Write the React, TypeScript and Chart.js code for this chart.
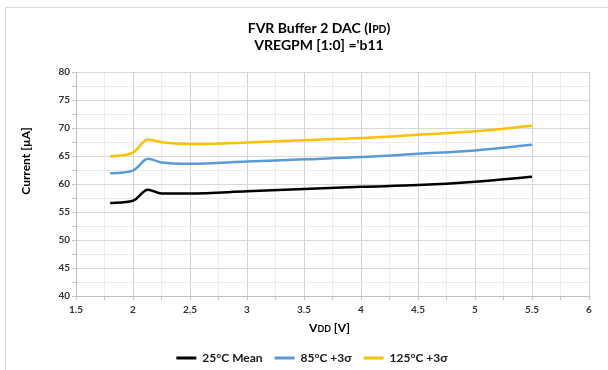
import { useEffect, useRef } from 'react';
import { Chart, registerables } from 'chart.js';

Chart.register(...registerables);

// ---- data ----
const VDD = [1.8, 2.0, 2.13, 2.25, 2.5, 3.0, 3.5, 4.0, 4.5, 5.0, 5.5];
const MEAN_25C = [56.6, 57.0, 58.96, 58.3, 58.3, 58.7, 59.1, 59.5, 59.8, 60.4, 61.3];
const SIGMA_85C = [61.9, 62.4, 64.5, 63.85, 63.6, 64.0, 64.4, 64.8, 65.4, 66.0, 67.0];
const SIGMA_125C = [64.9, 65.6, 67.93, 67.45, 67.15, 67.4, 67.8, 68.2, 68.8, 69.4, 70.4];

const SERIES_NAMES = ['25°C Mean', '85°C +3σ', '125°C +3σ'];
const SERIES_COLORS = ['#000000', '#5B9BD5', '#FFC000'];

const TITLE_LINES = ['FVR Buffer 2 DAC (IPD)', "VREGPM [1:0] ='b11"];
const X_TITLE = 'VDD [V]';
const Y_TITLE = 'Current [µA]';

const X_MIN = 1.5;
const X_MAX = 6;
const X_MAJOR = 0.5;
const Y_MIN = 40;
const Y_MAX = 80;
const Y_MAJOR = 5;

const FONT = 'Lato, "Open Sans", sans-serif';

// split text to draw small-caps part ("PD" / "DD")
function segmentsFor(text: string): [string, number][] {
  if (text === TITLE_LINES[0]) return [['FVR Buffer 2 DAC (I', 1], ['PD', 0.74], [')', 1]];
  if (text === X_TITLE) return [['V', 1], ['DD', 0.74], [' [V]', 1]];
  return [[text, 1]];
}

function drawSegs(ctx: CanvasRenderingContext2D, text: string, cx: number, y: number, size: number) {
  const segs = segmentsFor(text);
  let total = 0;
  const widths: number[] = [];
  for (const [t, s] of segs) {
    ctx.font = `bold ${size * s}px ${FONT}`;
    const w = ctx.measureText(t).width;
    widths.push(w);
    total += w;
  }
  let x = cx - total / 2;
  ctx.textAlign = 'left';
  ctx.textBaseline = 'alphabetic';
  segs.forEach(([t, s], i) => {
    ctx.font = `bold ${size * s}px ${FONT}`;
    ctx.fillText(t, x, y);
    x += widths[i];
  });
}

const textPlugin = {
  id: 'excelTexts',
  afterDraw(chart: any) {
    const ctx: CanvasRenderingContext2D = chart.ctx;
    const area = chart.chartArea;
    ctx.save();
    ctx.fillStyle = '#000000';
    drawSegs(ctx, TITLE_LINES[0], 319, 32.5, 14);
    drawSegs(ctx, TITLE_LINES[1], 319, 50, 14);
    drawSegs(ctx, X_TITLE, (area.left + area.right) / 2 - 3, 332, 12);
    ctx.translate(26, 161);
    ctx.rotate(-Math.PI / 2);
    ctx.font = `bold 12px ${FONT}`;
    ctx.textAlign = 'center';
    ctx.textBaseline = 'middle';
    ctx.fillText(Y_TITLE, 0, 0);
    ctx.restore();
  },
};

export default function App() {
  const ref = useRef<HTMLCanvasElement | null>(null);

  useEffect(() => {
    if (!ref.current) return;
    const series = [MEAN_25C, SIGMA_85C, SIGMA_125C];
    const chart = new Chart(ref.current, {
      type: 'line',
      data: {
        datasets: series.map((vals, i) => ({
          label: SERIES_NAMES[i],
          data: VDD.map((v, j) => ({ x: v, y: vals[j] })),
          borderColor: SERIES_COLORS[i],
          backgroundColor: SERIES_COLORS[i],
          borderWidth: 2.5,
          pointRadius: 0,
          fill: false,
          cubicInterpolationMode: 'monotone' as const,
        })),
      },
      options: {
        animation: false,
        responsive: false,
        layout: { padding: { top: 72, left: 16, right: 0, bottom: -4 } },
        plugins: {
          title: { display: false },
          tooltip: { enabled: false },
          legend: {
            position: 'bottom',
            labels: {
              boxWidth: 20,
              boxHeight: 3,
              padding: 12,
              color: '#1a1a1a',
              font: { family: FONT, size: 12, weight: 'bold' },
              generateLabels: (c: any) =>
                c.data.datasets.map((d: any, i: number) => ({
                  text: d.label,
                  fillStyle: d.borderColor,
                  strokeStyle: d.borderColor,
                  lineWidth: 0,
                  hidden: false,
                  datasetIndex: i,
                  fontColor: '#1a1a1a',
                })),
            },
          },
        },
        scales: {
          x: {
            type: 'linear',
            min: X_MIN,
            max: X_MAX,
            afterFit: (s: any) => { s.height = 44; },
            ticks: {
              stepSize: X_MAJOR / 2,
              autoSkip: false,
              maxRotation: 0,
              padding: 4,
              color: '#333333',
              font: { family: FONT, size: 10, weight: 'bold' },
              callback: (v: any) => (Math.abs(v / X_MAJOR - Math.round(v / X_MAJOR)) < 1e-6 ? String(v) : ''),
            },
            grid: {
              color: (c: any) => (c.tick && Math.abs(c.tick.value / X_MAJOR - Math.round(c.tick.value / X_MAJOR)) < 1e-6 ? '#d4d4d4' : '#ececec'),
              tickColor: '#c8c8c8',
              tickLength: 4,
              lineWidth: 1,
            },
            border: { color: '#c0c0c0', width: 1 },
          },
          y: {
            type: 'linear',
            min: Y_MIN,
            max: Y_MAX,
            afterFit: (s: any) => { s.width = 60; },
            ticks: {
              stepSize: Y_MAJOR / 2,
              autoSkip: false,
              padding: 2,
              color: '#333333',
              font: { family: FONT, size: 10, weight: 'bold' },
              callback: (v: any) => (v % Y_MAJOR === 0 ? String(v) : ''),
            },
            grid: {
              color: (c: any) => (c.tick && c.tick.value % Y_MAJOR === 0 ? '#d9d9d9' : '#ececec'),
              tickColor: '#c8c8c8',
              tickLength: 4,
              lineWidth: 1,
            },
            border: { color: '#c0c0c0', width: 1 },
          },
          y2: {
            type: 'linear',
            position: 'right',
            display: true,
            afterFit: (s: any) => { s.width = 19; },
            ticks: { display: false },
            grid: { display: false, drawTicks: false },
            border: { display: false },
          },
        },
      },
      plugins: [textPlugin],
    } as any);
    return () => chart.destroy();
  }, []);

  return (
    <div style={{ position: 'absolute', left: 0, top: 0, width: 608, height: 370, background: '#ffffff' }}>
      <div
        style={{
          position: 'absolute',
          left: 5,
          top: 7,
          width: 603,
          height: 363,
          borderTop: '1px solid #d9d9d9',
          borderLeft: '1px solid #d9d9d9',
          boxSizing: 'border-box',
        }}
      />
      <canvas ref={ref} width={608} height={370} style={{ position: 'absolute', left: 0, top: 0 }} />
    </div>
  );
}
